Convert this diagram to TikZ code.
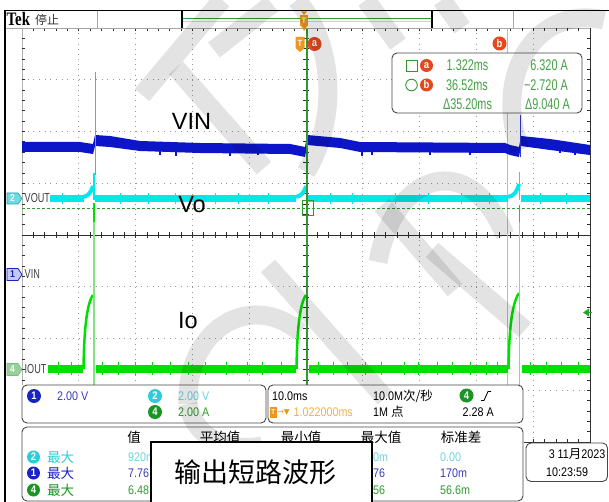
\documentclass[tikz,border=0pt]{standalone}
\usepackage{fontspec}
\setmainfont{Liberation Sans}
\newfontfamily\tekA[FakeStretch=0.7]{Liberation Sans}
\newfontfamily\tekB[FakeStretch=0.86]{Liberation Sans}
\newfontfamily\teklogo[FakeStretch=0.78]{Liberation Serif}
\newfontfamily\cjk{Noto Sans CJK SC}
\newfontfamily\symf{DejaVu Sans}
\definecolor{vinblue}{RGB}{12,22,200}
\definecolor{vinspike}{RGB}{140,140,225}
\definecolor{vocyan}{RGB}{0,232,236}
\definecolor{iogreen}{RGB}{0,224,0}
\definecolor{iolight}{RGB}{130,225,130}
\definecolor{curgreen}{RGB}{50,150,50}
\definecolor{curtext}{RGB}{70,160,70}
\definecolor{tekorange}{RGB}{235,150,35}
\definecolor{tekorangeL}{RGB}{238,178,80}
\definecolor{tekred}{RGB}{228,72,28}
\definecolor{ch1c}{RGB}{25,35,195}
\definecolor{ch2c}{RGB}{45,205,215}
\definecolor{ch4c}{RGB}{25,150,35}
\definecolor{ch1t}{RGB}{60,60,185}
\definecolor{ch2t}{RGB}{110,212,222}
\definecolor{ch4t}{RGB}{50,155,50}
\definecolor{boxline}{RGB}{70,70,70}
\tikzset{
  gdv/.style={draw=gray!80, line width=0.9, dash pattern=on 0.9pt off 4.275pt},
  gdh/.style={draw=gray!80, line width=0.9, dash pattern=on 0.9pt off 4.78pt},
  tickm/.style={draw=gray!35!black, line width=0.7},
  axisline/.style={draw=gray!35!black, line width=0.8},
  ro/.style={font=\tekA\fontsize{15.5}{16}\selectfont, text=curtext, inner sep=0},
  bt/.style={font=\tekB\fontsize{12.5}{13}\selectfont, inner sep=0},
  cj/.style={font=\cjk\fontsize{13.5}{14}\selectfont, inner sep=0},
  lbl/.style={font=\tekA\fontsize{13}{13}\selectfont, text=black!75, inner sep=0, anchor=west},
  badge/.style={circle, inner sep=0, minimum size=14pt, text=white, font=\tekB\bfseries\fontsize{11}{11}\selectfont},
  big/.style={font=\fontsize{23.5}{24}\selectfont, inner sep=0},
  rbox/.style={draw=boxline, line width=0.9, rounded corners=5, fill=white},
  wm/.style={draw=black, draw opacity=0.11, line width=19},
}
\begin{document}
\begin{tikzpicture}[x=1pt,y=-1pt]
\useasboundingbox (0,0) rectangle (609,502);
\fill[white] (0,0) rectangle (609,502);

% ---------- grid ----------
\foreach \i in {1,2,3,4,6,7,8,9} \draw[gdv] ({22+56.8*\i},28) -- ({22+56.8*\i},442);
\foreach \j in {1,2,3,5,6,7} \draw[gdh] (22,{28+51.75*\j}) -- (590,{28+51.75*\j});
\draw[draw=gray!60, line width=0.6] (22,28) rectangle (590,442);
\foreach \k in {1,...,49} {
  \draw[tickm] ({22+11.36*\k},28) -- ++(0,3);
  \draw[tickm] ({22+11.36*\k},442) -- ++(0,-3);
  \draw[tickm] ({22+11.36*\k},232) -- ++(0,6);
}
\foreach \k in {1,...,39} {
  \draw[tickm] (22,{28+10.35*\k}) -- ++(3,0);
  \draw[tickm] (590,{28+10.35*\k}) -- ++(-3,0);
  \draw[tickm] (303,{28+10.35*\k}) -- ++(6,0);
}
\draw[axisline] (22,235) -- (590,235);
\draw[axisline] (306,28) -- (306,442);
\draw[draw=gray!40!black, line width=0.8] (590,28) -- (590,442) -- (523,442);

% ---------- cursors and reference lines ----------
\draw[iolight, line width=1.2] (507.5,28) -- (507.5,385);
\draw[curgreen, dash pattern=on 3pt off 2pt, line width=0.8] (22,208) -- (590,208);

% ---------- VIN trace ----------
\fill[vinblue] (22,142) -- (80,142) -- (93,144) -- (95,135) -- (110,136) -- (140,141) -- (200,143) -- (290,144) -- (305,147) -- (307,135) -- (340,138) -- (360,142) -- (505,143) -- (510,145) -- (519,147) -- (521,136) -- (550,139) -- (590,145)
  -- (590,155) -- (550,150) -- (521,146) -- (519,157) -- (510,155) -- (505,153) -- (360,152) -- (340,148) -- (307,145) -- (305,157) -- (290,154) -- (200,153) -- (140,151) -- (110,147) -- (95,146) -- (93,154) -- (80,152) -- (22,152) -- cycle;
\foreach \x/\ya/\yb in {160/150/155, 176/151/156, 230/152/156, 258/152/155, 362/151/156, 372/151/155, 430/151/155, 470/151/155, 560/149/153, 575/151/155}
  \draw[vinblue, line width=1.2] (\x,\ya) -- (\x,\yb);
\draw[vinspike, line width=1] (95,72) -- (95,175);
\draw[vinblue!85!white, line width=1] (520.5,115) -- (520.5,157);

% ---------- Vo trace ----------
\draw[vocyan, line width=7] (50,198.5) -- (84,198.5);
\draw[vocyan, line width=4] (83,197) .. controls (88,196) and (91,193) .. (93,186);
\draw[vocyan, line width=1.6] (94,173) -- (94,200);
\draw[vocyan, line width=7] (95,198.5) -- (296,198.5);
\draw[vocyan, line width=4] (296,197) .. controls (301,196) and (304,193) .. (306,186);
\draw[vocyan, line width=1.6] (306.5,176) -- (306.5,200);
\draw[vocyan, line width=7] (308,198.5) -- (508,198.5);
\draw[vocyan, line width=4] (508,197) .. controls (514,196) and (517,192) .. (519,184);
\draw[vocyan, line width=1.6] (519.5,172) -- (519.5,200);
\draw[vocyan, line width=7] (521,198.5) -- (590,198.5);
\foreach \x in {62,120,148,175,215,238,268,330,352,395,428,461,489,540,566}
  \draw[vocyan, line width=0.9] (\x,193) -- (\x,204);

% ---------- Io trace ----------
\draw[iogreen, line width=8] (48,368.5) -- (83,368.5);
\draw[iogreen, line width=8] (96,368.5) -- (296,368.5);
\draw[iogreen, line width=8] (309,368.5) -- (508,368.5);
\draw[iogreen, line width=8] (522,368.5) -- (590,368.5);
\draw[iogreen, line width=2.5] (83.5,369) .. controls (84,335) and (86,305) .. (93,295);
\draw[iogreen, line width=2.5] (296.5,369) .. controls (297,335) and (299,305) .. (306,295);
\draw[iogreen, line width=2.5] (508.5,369) .. controls (509,335) and (511,305) .. (519,293);
\foreach \x in {58,71,102,118,135,152,170,188,205,226,247,262,281,318,333,347,365,381,404,418,437,452,470,486,497,530,546,561,578}
  \draw[iogreen, line width=0.8] (\x,362) -- (\x,375);
\draw[iolight, line width=1.6] (94,203) -- (94,385);
\draw[iogreen, line width=1.6] (94,203) -- (94,222);
\draw[iolight, line width=1.6] (519.5,205) -- (519.5,385);
\draw[iogreen, line width=1.6] (519.5,205) -- (519.5,222);
\draw[curgreen, line width=1.4] (307,28) -- (307,385);
\draw[curgreen, line width=0.9] (302,200.5) rectangle (313,215);

% trigger level arrow
\fill[curgreen!80!iogreen] (583,312.5) -- (589,308.5) -- (589,316.5) -- cycle;
\draw[curgreen!80!iogreen, line width=1.2] (589,312.5) -- (592,312.5);

% ---------- channel markers ----------
\filldraw[fill=ch2c!70!white, draw=ch2c!80!black, line width=0.6] (7,193) -- (18,193) -- (22,198.5) -- (18,204) -- (7,204) -- cycle;
\node[font=\tekB\bfseries\fontsize{10}{10}\selectfont, text=white, inner sep=0] (m2) at (12.5,198.5) {2};
\node[lbl] (l2) at (24.5,198.5) {VOUT};
\filldraw[fill=ch1c!25!white, draw=ch1c, line width=0.8] (7,268.5) -- (18,268.5) -- (22,274.5) -- (18,280.5) -- (7,280.5) -- cycle;
\node[font=\tekB\bfseries\fontsize{10}{10}\selectfont, text=ch1c, inner sep=0] (m1) at (12.5,274.5) {1};
\node[lbl] (l1) at (24.5,274.5) {VIN};
\filldraw[fill=ch4c!45!white, draw=ch4c!60!white, line width=0.6] (7,363.5) -- (18,363.5) -- (22,369.5) -- (18,375.5) -- (7,375.5) -- cycle;
\node[font=\tekB\bfseries\fontsize{10}{10}\selectfont, text=white, inner sep=0] (m4) at (12.5,369.5) {4};
\node[lbl] (l4) at (24.5,369.5) {IOUT};

% ---------- top bar ----------
\draw[gray!70, line width=0.7] (5,28.5) -- (513,28.5);
\draw[gray!70, line width=0.7] (97,11) -- (97,28.5);
\draw[gray!70, line width=0.7] (513,11) -- (513,28.5);
\draw[black, line width=1.4] (182,11) -- (182,28.5);
\draw[black, line width=1.4] (432,11) -- (432,28.5);
\draw[gray!35, line width=0.6] (183,21.5) -- (431,21.5);
\draw[curgreen, line width=0.9] (183,18) -- (431,18);
\node[font=\teklogo\bfseries\fontsize{19}{19}\selectfont, inner sep=0, anchor=west] (tek) at (6.5,19.5) {Tek};
\node[font=\cjk\fontsize{12}{12}\selectfont, inner sep=0, anchor=west, text=black!80] (stop) at (35,19.5) {停止};
% trigger position marker
\fill[tekorange] (301,11.5) -- (307,11.5) -- (304,15) -- cycle;
\fill[tekorange] (300,15) rectangle (308,26);
\fill[tekorange] (301,26) -- (307,26) -- (304,31) -- cycle;
\node[font=\tekB\bfseries\fontsize{8}{8}\selectfont, text=white, inner sep=0] (tp) at (304,20.5) {T};
% trigger point and cursor a/b markers
\fill[tekorange] (295.5,37) -- (304.5,37) -- (304.5,48) -- (300,52) -- (295.5,48) -- cycle;
\node[font=\tekB\bfseries\fontsize{9}{9}\selectfont, text=white, inner sep=0] (tt) at (300,43.5) {T};
\node[badge, fill=tekred] (ca) at (314.5,44) {a};
\node[badge, fill=tekred] (cb) at (499.5,43.5) {b};

% ---------- cursor readout ----------
\draw[rbox] (392,53) rectangle (582,113);
\draw[curgreen, line width=0.9] (406,60) rectangle (417,71);
\node[badge, fill=tekred, minimum size=13pt] (ra) at (426.5,65.5) {a};
\draw[curgreen, line width=0.9] (411.5,85) circle (5.8);
\node[badge, fill=tekred, minimum size=13pt] (rb) at (426.5,85) {b};
\node[ro] (r1t) at (467.5,65.5) {1.322ms};
\node[ro, anchor=east] (r1v) at (568,65.5) {6.320 A};
\node[ro] (r2t) at (467,85) {36.52ms};
\node[ro, anchor=east] (r2v) at (568,85) {−2.720 A};
\node[ro] (r3t) at (467.5,104.5) {Δ35.20ms};
\node[ro, anchor=east] (r3v) at (570,104.5) {Δ9.040 A};

% ---------- bottom panels ----------
\fill[white] (20,384.5) rectangle (524,503);
\draw[rbox] (22,385) rectangle (266,423);
\draw[rbox] (268,385) rectangle (523,423);
\draw[rbox] (22,427) rectangle (523,501);

\node[badge, fill=ch1c] (b1) at (34,396) {1};
\node[bt, anchor=west, text=ch1t] (v1) at (57,396) {2.00 V};
\node[badge, fill=ch2c] (b2) at (155,396) {2};
\node[bt, anchor=west, text=ch2t] (v2) at (178,396) {2.00 V};
\node[badge, fill=ch4c] (b4) at (155,412) {4};
\node[bt, anchor=west, text=ch4t] (v4) at (178,412) {2.00 A};

\node[bt, anchor=west] (hs) at (272,396) {10.0ms};
\fill[tekorange] (270,406.5) rectangle (276.5,418);
\node[font=\tekB\bfseries\fontsize{7}{7}\selectfont, text=white, inner sep=0] (tt2) at (273.25,412.25) {T};
\node[font=\symf\fontsize{7.5}{8}\selectfont, text=tekorange, inner sep=0, anchor=west] (arr) at (277.5,412.5) {→▼};
\node[bt, anchor=west, text=tekorangeL] (tpos) at (293.5,412) {1.022000ms};
\node[bt, anchor=west] (sr) at (373,396) {10.0M{\cjk 次/秒}};
\node[bt, anchor=west] (rl) at (373,412) {1M {\cjk 点}};
\node[badge, fill=ch4c] (b4t) at (466.5,395.5) {4};
\draw[black, line width=0.8] (481,400.5) -- (484,400.5) -- (488,391.5) -- (491,391.5);
\node[bt, anchor=east] (tl) at (494,412) {2.28 A};

\node[cj] (h0) at (134,437) {值};
\node[cj] (h1) at (220,437) {平均值};
\node[cj] (h2) at (301,437) {最小值};
\node[cj] (h3) at (381,437) {最大值};
\node[cj] (h4) at (461,437) {标准差};

\node[badge, fill=ch2c, minimum size=13pt] (s2) at (33.5,457) {2};
\node[cj, anchor=west, text=ch2c] (n2) at (47,457) {最大};
\node[badge, fill=ch1c, minimum size=13pt] (s1) at (33.5,473) {1};
\node[cj, anchor=west, text=ch1c] (n1) at (47,473) {最大};
\node[badge, fill=ch4c, minimum size=13pt] (s4) at (33.5,490) {4};
\node[cj, anchor=west, text=ch4c] (n4) at (47,490) {最大};

\node[bt, anchor=west, text=ch2t] (a2) at (128,457) {920m};
\node[bt, anchor=west, text=ch1t] (a1) at (128,473) {7.76};
\node[bt, anchor=west, text=ch4t] (a4) at (128,490) {6.48};
\node[bt, anchor=west, text=ch2t] (x2) at (373,457) {0m};
\node[bt, anchor=west, text=ch1t] (x1) at (373,473) {76};
\node[bt, anchor=west, text=ch4t] (x4) at (373,490) {56};
\node[bt, anchor=west, text=ch2t] (d2) at (440,457) {0.00};
\node[bt, anchor=west, text=ch1t] (d1) at (440,473) {170m};
\node[bt, anchor=west, text=ch4t] (d4) at (440,490) {56.6m};

\draw[rbox] (526,443) rectangle (607.5,481.5);
\node[bt, anchor=east] (date) at (605.5,454) {3 11{\cjk 月}2023};
\node[bt, anchor=west] (time) at (546,472) {10:23:59};

% ---------- watermark ----------
\begin{scope}[wm]
\draw (142,95) -- (222,0);
\draw (176,68) -- (264,168);
\draw (214,50) -- (272,4);
\draw (297,0) .. controls (335,45) and (338,120) .. (306,172);
\draw (366,0) -- (398,44);
\draw (442,0) -- (462,28);
\draw (604,20) .. controls (540,5) and (492,70) .. (520,150);
\draw (188,404) .. controls (185,330) and (250,290) .. (300,332);
\draw (188,404) .. controls (195,440) and (230,452) .. (262,446);
\draw (268,266) -- (385,398);
\draw (382,205) -- (455,290);
\draw (378,262) .. controls (395,170) and (470,150) .. (505,235);
\draw (432,250) -- (525,330);
\end{scope}

% ---------- overlay label ----------
\draw[black, line width=1.3, fill=white] (151,442) rectangle (372,505);
\node[font=\cjk\fontsize{27}{28}\selectfont, inner sep=0] (title) at (255,472) {输出短路波形};

% ---------- trace labels ----------
\node[big] (tvin) at (191.5,121.5) {VIN};
\node[big] (tvo) at (192,205) {Vo};
\node[big] (tio) at (188,320.5) {Io};

% ---------- outer frame ----------
\draw[black, line width=1.8] (4,10.5) -- (609,10.5);
\draw[black, line width=1.8] (5,10) -- (5,502);
\end{tikzpicture}
\end{document}
